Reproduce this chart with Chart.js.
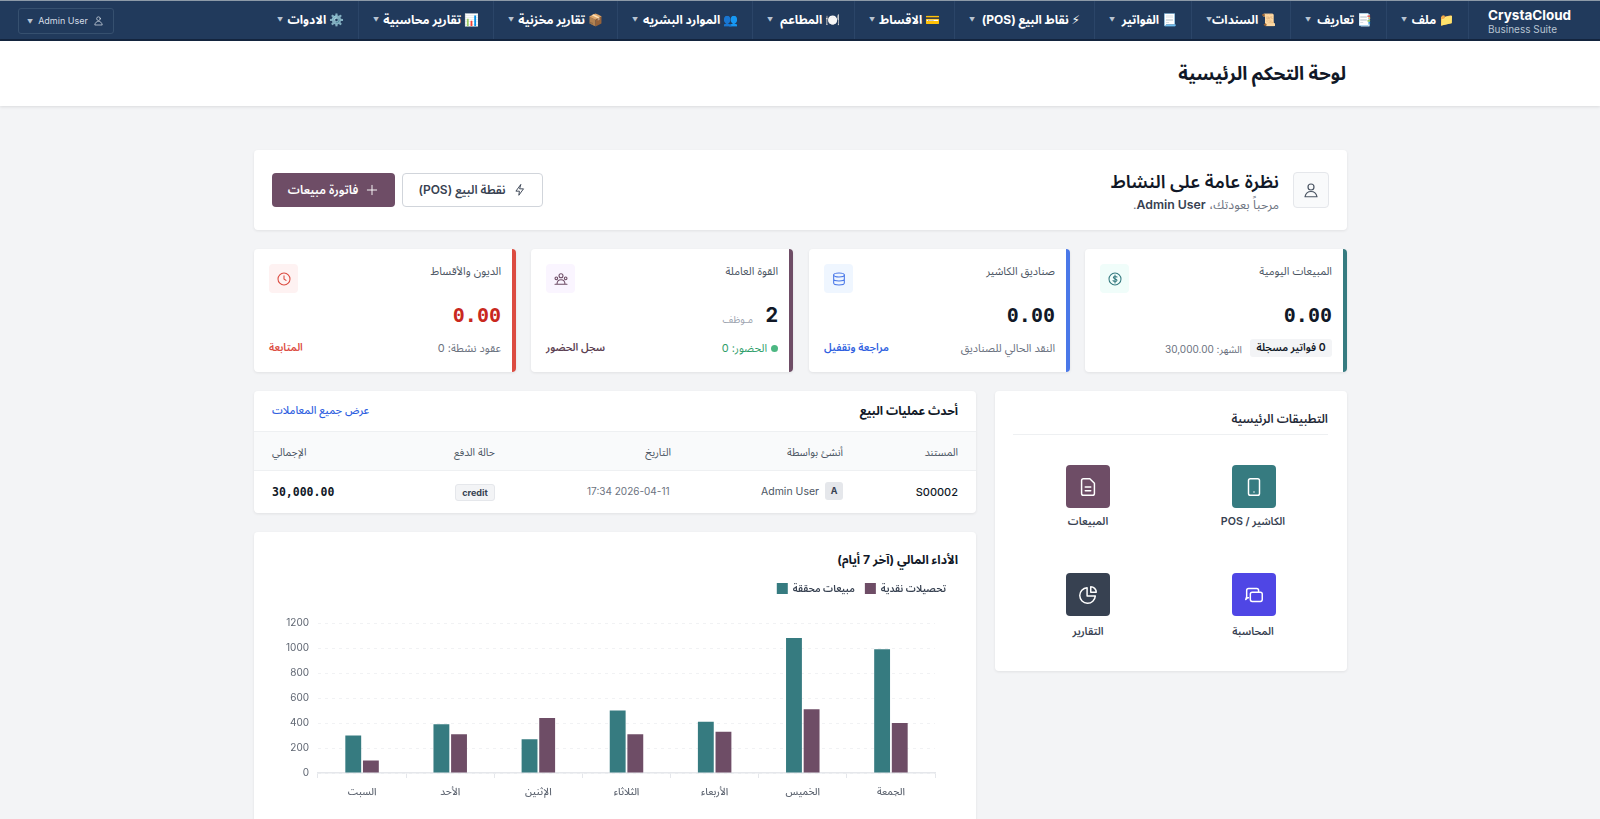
<!DOCTYPE html>
<html lang="ar" dir="rtl">
<head>
<meta charset="utf-8">
<title>لوحة التحكم الرئيسية</title>
<script src="https://cdn.jsdelivr.net/npm/chart.js@4/dist/chart.umd.min.js"></script>
<style>
* { box-sizing: border-box; margin: 0; padding: 0; }
html, body { width: 1600px; height: 819px; overflow: hidden; background: #f3f4f6; }
body { position: relative; font-family: Inter, "Noto Sans Arabic", "Noto Sans", "DejaVu Sans", sans-serif; color: #111827; }
.abs, .card, .nav-item, .kpi > * { position: absolute; }
.card { background: #fff; border-radius: 4px; box-shadow: 0 1px 3px rgba(0,0,0,.08); }
#nav { position: absolute; left: 0; top: 0; width: 1600px; height: 41px; background: #213a5c; border-top: 1px solid #8d9aa8; border-bottom: 2px solid #14253f; color: #fff; }
.nav-item { top: 0; height: 38px; line-height: 37px; font-size: 12px; font-weight: 700; border-right: 1px solid #2b4568; padding-right: 14px; white-space: nowrap; }
.caret { position: absolute; left: 14px; top: 0; font-size: 6px; color: #b8c4d2; font-weight: 400; }
#brand { position: absolute; left: 1488px; top: 6px; width: 84px; color: #fff; direction: ltr; font-size: 13.5px; font-weight: 700; line-height: 16px; }
#brand small { display: block; font-size: 10px; font-weight: 400; color: #b8c4d2; line-height: 12px; }
#user { position: absolute; left: 18px; top: 7px; width: 96px; height: 26px; border: 1px solid #36506f; border-radius: 3px; direction: ltr; font-size: 9px; line-height: 24px; color: #d5dde6; padding-left: 8px; white-space: nowrap; }
#header { position: absolute; left: 0; top: 41px; width: 1600px; height: 65px; background: #fff; box-shadow: 0 1px 3px rgba(0,0,0,.1); }
#header h1 { position: absolute; right: 254px; top: 21px; font-size: 18.7px; line-height: 24px; font-weight: 700; }
.kpi { top: 249px; width: 262px; height: 123px; border-right: 4px solid; }
.kpi .t { right: 11px; top: 11px; font-size: 11px; color: #4b5563; white-space: nowrap; }
.kpi .ic { left: 15px; top: 15px; width: 29px; height: 29px; border-radius: 4px; display: flex; align-items: center; justify-content: center; }
.kpi .v { right: 11px; top: 53px; font: 700 20px/26px "DejaVu Sans Mono", monospace; direction: ltr; }
.kpi .s { right: 11px; top: 88px; font-size: 11px; color: #6b7280; white-space: nowrap; }
.kpi .l { left: 15px; top: 88px; font-size: 10.5px; font-weight: 600; white-space: nowrap; }
svg.i { fill: none; stroke: currentColor; stroke-width: 1.6; stroke-linecap: round; stroke-linejoin: round; display: block; }
.btn { position: absolute; top: 173px; height: 34px; border-radius: 4px; font-size: 12px; font-weight: 600; display: flex; align-items: center; justify-content: center; gap: 7px; white-space: nowrap; }
.th { position: absolute; top: 442px; font-size: 10.5px; color: #4b5563; white-space: nowrap; }
.td { position: absolute; white-space: nowrap; }
.app { position: absolute; width: 44px; height: 43px; border-radius: 4px; color: #fff; display: flex; align-items: center; justify-content: center; }
.app-l { position: absolute; width: 140px; text-align: center; font-size: 10.7px; font-weight: 600; color: #374151; white-space: nowrap; }
</style>
</head>
<body>
<div id="nav">
  <div id="brand">CrystaCloud<small>Business Suite</small></div>
  <div class="nav-item" style="left:1387px;width:82px">📁 ملف<span class="caret">▼</span></div>
  <div class="nav-item" style="left:1291px;width:96px">📑 تعاريف<span class="caret">▼</span></div>
  <div class="nav-item" style="left:1192px;width:99px">📜 السندات<span class="caret">▼</span></div>
  <div class="nav-item" style="left:1095px;width:97px">📃 الفواتير<span class="caret">▼</span></div>
  <div class="nav-item" style="left:955px;width:140px">⚡ نقاط البيع (POS)<span class="caret">▼</span></div>
  <div class="nav-item" style="left:855px;width:100px">💳 الاقساط<span class="caret">▼</span></div>
  <div class="nav-item" style="left:753px;width:102px">🍽️ المطاعم<span class="caret">▼</span></div>
  <div class="nav-item" style="left:618px;width:135px">👥 الموارد البشريه<span class="caret">▼</span></div>
  <div class="nav-item" style="left:494px;width:124px">📦 تقارير مخزنية<span class="caret">▼</span></div>
  <div class="nav-item" style="left:359px;width:135px">📊 تقارير محاسبية<span class="caret">▼</span></div>
  <div class="nav-item" style="left:121px;width:238px;"><span>⚙️ الادوات</span><span class="caret" style="left:156px">▼</span></div>
  <div id="user"><span style="font-size:6px;color:#b8c4d2">▼</span>&nbsp; Admin User &nbsp;<svg class="i" style="display:inline-block;vertical-align:-2px" width="11" height="11" viewBox="0 0 24 24"><circle cx="12" cy="8" r="4"/><path d="M4 21c1-5 4-7 8-7s7 2 8 7z"/></svg></div>
</div>

<div id="header"><h1>لوحة التحكم الرئيسية</h1></div>

<div class="card" style="left:254px;top:150px;width:1093px;height:80px"></div>
<div class="abs" style="left:1293px;top:172px;width:36px;height:36px;border:1px solid #e5e7eb;border-radius:4px;background:#f9fafb;color:#4b5563;display:flex;align-items:center;justify-content:center"><svg class="i" width="18" height="18" viewBox="0 0 24 24"><circle cx="12" cy="8" r="4"/><path d="M4 21c1-5 4-7 8-7s7 2 8 7z"/></svg></div>
<div class="abs" style="right:321px;top:168px;font-size:18.300px;line-height:26px;font-weight:600;white-space:nowrap">نظرة عامة على النشاط</div>
<div class="abs" style="right:321px;top:197px;font-size:12.300px;line-height:16px;color:#6b7280;white-space:nowrap">مرحباً بعودتك، <b style="color:#374151;font-weight:600">Admin User</b>.</div>
<div class="btn" style="left:402px;width:141px;background:#fff;border:1px solid #d1d5db;color:#374151"><svg class="i" width="14" height="14" viewBox="0 0 24 24"><path d="M13 3 5 14h6l-1 7 8-11h-6z"/></svg><span>نقطة البيع (POS)</span></div>
<div class="btn" style="left:272px;width:123px;background:#6e4d66;color:#fff"><svg class="i" width="14" height="14" viewBox="0 0 24 24"><path d="M12 4v16M4 12h16"/></svg><span>فاتورة مبيعات</span></div>

<div class="card kpi" style="left:1085px;border-color:#367b80">
  <div class="t">المبيعات اليومية</div>
  <div class="ic" style="background:#f0fdfa;color:#367b80"><svg class="i" width="16" height="16" viewBox="0 0 24 24"><circle cx="12" cy="12" r="9"/><path d="M15 9c-1-1-5-1.500-5.500.5S15 11.500 15 14s-5 2-6 .5M12 6v12"/></svg></div>
  <div class="v">0.00</div>
  <div class="abs" style="right:11px;top:90px;width:82px;height:18px;background:#f3f4f6;border-radius:3px;font-size:10.5px;font-weight:600;line-height:18px;text-align:center;white-space:nowrap">0 فواتير مسجلة</div>
  <div class="abs" style="right:101px;top:90px;font-size:10px;color:#6b7280;white-space:nowrap">الشهر: 30,000.00</div>
</div>
<div class="card kpi" style="left:809px;width:261px;border-color:#4a78e8">
  <div class="t">صناديق الكاشير</div>
  <div class="ic" style="background:#eff6ff;color:#4a78e8"><svg class="i" width="16" height="16" viewBox="0 0 24 24"><ellipse cx="12" cy="6" rx="8" ry="3"/><path d="M4 6v12c0 1.700 3.600 3 8 3s8-1.300 8-3V6M4 12c0 1.700 3.600 3 8 3s8-1.300 8-3"/></svg></div>
  <div class="v">0.00</div>
  <div class="s">النقد الحالي للصناديق</div>
  <div class="l" style="color:#2f5fe0">مراجعة وتقفيل</div>
</div>
<div class="card kpi" style="left:531px;border-color:#6e4d66">
  <div class="t">القوة العاملة</div>
  <div class="ic" style="background:#faf5ff;color:#6e4d66"><svg class="i" width="16" height="16" viewBox="0 0 24 24"><circle cx="12" cy="7" r="3"/><circle cx="5" cy="11" r="2"/><circle cx="19" cy="11" r="2"/><path d="M3 20h18M6 20c0-4 2-7 6-7s6 3 6 7"/></svg></div>
  <div class="v" style="font-family:Inter,sans-serif;font-size:20px">2</div>
  <div class="abs" style="right:36px;top:60px;font-size:10px;color:#9ca3af">مـوظف</div>
  <div class="abs" style="right:11px;top:88px;font-size:11px;color:#2f9e6a;white-space:nowrap"><span style="display:inline-block;width:7px;height:7px;border-radius:50%;background:#4cb782;margin-left:4px"></span>الحضور: 0</div>
  <div class="l" style="color:#5b4152">سجل الحضور</div>
</div>
<div class="card kpi" style="left:254px;border-color:#dc4c41">
  <div class="t">الديون والأقساط</div>
  <div class="ic" style="background:#fef2f2;color:#dc4c41"><svg class="i" width="16" height="16" viewBox="0 0 24 24"><circle cx="12" cy="12" r="9"/><path d="M12 7v5l3 2"/></svg></div>
  <div class="v" style="color:#c9281e">0.00</div>
  <div class="s">عقود نشطة: 0</div>
  <div class="l" style="color:#dc4c41">المتابعة</div>
</div>

<!-- sales table -->
<div class="card" style="left:254px;top:391px;width:722px;height:122px;overflow:hidden">
  <div class="abs" style="left:0;top:40px;width:722px;height:40px;background:#f9fafb;border-top:1px solid #eef0f2;border-bottom:1px solid #eef0f2"></div>
</div>
<div class="abs" style="right:642px;top:402px;font-size:12px;line-height:18px;font-weight:700">أحدث عمليات البيع</div>
<div class="abs" style="left:272px;top:403px;font-size:10.8px;line-height:16px;color:#2f5fe0;font-weight:500">عرض جميع المعاملات</div>
<div class="th" style="right:642px">المستند</div>
<div class="th" style="right:757px">أنشئ بواسطة</div>
<div class="th" style="right:929px">التاريخ</div>
<div class="th" style="right:1105px">حالة الدفع</div>
<div class="th" style="left:272px">الإجمالي</div>
<div class="td" style="right:642px;top:485px;font-size:11px;font-weight:500;direction:ltr">S00002</div>
<div class="abs" style="left:825px;top:482px;width:18px;height:18px;background:#e5e7eb;border-radius:3px;font-size:9px;font-weight:700;line-height:18px;text-align:center;color:#374151;direction:ltr">A</div>
<div class="td" style="left:761px;top:485px;font-size:10.5px;color:#4b5563;direction:ltr">Admin User</div>
<div class="td" style="left:587px;top:485px;font-size:10px;color:#6b7280;direction:ltr">17:34 2026-04-11</div>
<div class="abs" style="left:455px;top:484px;width:40px;height:17px;background:#f3f4f6;border:1px solid #e5e7eb;border-radius:3px;font-size:9px;font-weight:700;line-height:15px;text-align:center;color:#374151;direction:ltr">credit</div>
<div class="td" style="left:272px;top:484px;font:700 11.500px/16px 'DejaVu Sans Mono',monospace;direction:ltr">30,000.00</div>

<!-- main apps -->
<div class="card" style="left:995px;top:391px;width:352px;height:280px"></div>
<div class="abs" style="right:272px;top:410px;font-size:12px;line-height:18px;font-weight:600;color:#1f2937">التطبيقات الرئيسية</div>
<div class="abs" style="left:1013px;top:434px;width:315px;height:1px;background:#eef0f2"></div>
<div class="app" style="left:1232px;top:465px;background:#367b80"><svg class="i" width="22" height="22" viewBox="0 0 24 24"><rect x="6" y="3" width="12" height="18" rx="2"/><path d="M12 17.500h.01"/></svg></div>
<div class="app-l" style="left:1183px;top:510px">الكاشير / POS</div>
<div class="app" style="left:1066px;top:465px;background:#6e4d66"><svg class="i" width="22" height="22" viewBox="0 0 24 24"><path d="M7 3h7l5 5v11a2 2 0 0 1-2 2H7a2 2 0 0 1-2-2V5a2 2 0 0 1 2-2zM9 12h6M9 16h6"/></svg></div>
<div class="app-l" style="left:1018px;top:510px">المبيعات</div>
<div class="app" style="left:1232px;top:573px;background:#4f46e5"><svg class="i" width="22" height="22" viewBox="0 0 24 24"><rect x="8" y="9" width="13" height="10" rx="2"/><path d="M6 15H5l-2 2 1-3V7a2 2 0 0 1 2-2h9a2 2 0 0 1 2 2v2"/></svg></div>
<div class="app-l" style="left:1183px;top:620px">المحاسبة</div>
<div class="app" style="left:1066px;top:573px;background:#374151"><svg class="i" width="22" height="22" viewBox="0 0 24 24"><path d="M11 4a8.500 8.500 0 1 0 9 9h-9z"/><path d="M15 3a6 6 0 0 1 6 6h-6z"/></svg></div>
<div class="app-l" style="left:1018px;top:620px">التقارير</div>

<!-- chart card -->
<div class="card" style="left:254px;top:532px;width:722px;height:300px"></div>
<div class="abs" style="right:642px;top:551px;font-size:12.200px;line-height:18px;font-weight:700">الأداء المالي (آخر 7 أيام)</div>
<div class="abs" style="left:277px;top:573px;width:679px;height:232px"><canvas id="salesChart"></canvas></div>

<script>
const days = ['السبت', 'الأحد', 'الإثنين', 'الثلاثاء', 'الأربعاء', 'الخميس', 'الجمعة'];
const salesValues = [300, 390, 270, 500, 410, 1080, 990];
const cashValues = [100, 310, 440, 310, 330, 510, 400];
const salesLabel = 'مبيعات محققة';
const cashLabel = 'تحصيلات نقدية';
const tealColor = '#367b80';
const purpleColor = '#6e4d66';
const tickColor = '#5f6672';
const chartFont = 'Inter, "Noto Sans Arabic", "Noto Sans", "DejaVu Sans", sans-serif';

// gap between the legend and the plot
const legendGap = {
    id: 'legendGap',
    beforeInit(chart) {
        const fit = chart.legend.fit;
        chart.legend.fit = function () {
            fit.call(this);
            this.height += 19;
        };
    }
};

new Chart(document.getElementById('salesChart'), {
    type: 'bar',
    plugins: [legendGap],
    data: {
        labels: days,
        datasets: [
            { label: salesLabel, data: salesValues, backgroundColor: tealColor, categoryPercentage: 0.4, barPercentage: 0.9 },
            { label: cashLabel, data: cashValues, backgroundColor: purpleColor, categoryPercentage: 0.4, barPercentage: 0.9 }
        ]
    },
    options: {
        responsive: true,
        maintainAspectRatio: false,
        animation: false,
        font: { family: chartFont },
        plugins: {
            legend: {
                align: 'end',
                labels: { boxWidth: 11, boxHeight: 11, padding: 10, color: '#374151', font: { family: chartFont, size: 10, weight: '600' } }
            },
            tooltip: { enabled: false }
        },
        scales: {
            x: {
                grid: { drawOnChartArea: false, tickLength: 5, color: '#e5e7eb' },
                border: { color: '#e5e7eb', width: 1.5 },
                ticks: { color: tickColor, padding: 7.5, font: { family: chartFont, size: 10, weight: '500' } }
            },
            y: {
                min: 0,
                max: 1200,
                grid: { color: '#f1f2f4', tickLength: 0 },
                border: { display: false, dash: [3, 4] },
                ticks: { stepSize: 200, color: tickColor, padding: 9, font: { family: chartFont, size: 10 }, callback: v => String(v) }
            },
            // empty right axis keeps the plot off the card edge, as in the reference
            yPad: {
                position: 'right',
                ticks: { display: false },
                grid: { display: false },
                border: { display: false },
                afterFit(scale) { scale.width = 21; }
            }
        }
    }
});
</script>
</body>
</html>
